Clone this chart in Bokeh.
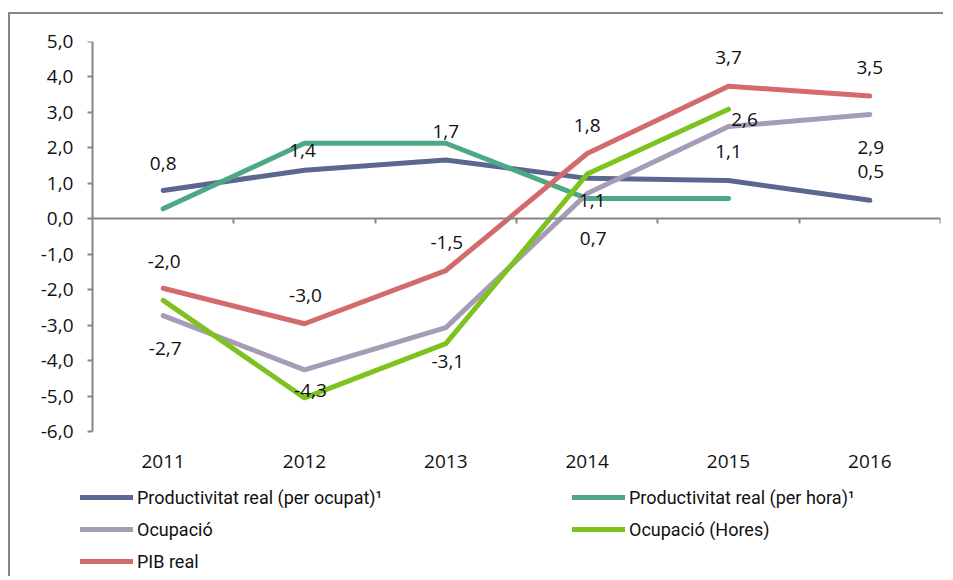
import math
from bokeh.plotting import figure
from bokeh.models import (ColumnDataSource, Range1d, LinearAxis, FixedTicker,
                          Legend, LegendItem)
from bokeh.core.properties import value
from bokeh.embed import file_html
from bokeh.resources import INLINE

NaN = float("nan")

# ---- data -------------------------------------------------------------
years = ["2011", "2012", "2013", "2014", "2015", "2016"]
prod_ocupat = [0.80, 1.37, 1.66, 1.14, 1.08, 0.52]
prod_hora = [0.28, 2.13, 2.13, 0.57, 0.57, NaN]
ocupacio = [-2.73, -4.26, -3.07, 0.71, 2.60, 2.94]
ocupacio_hores = [-2.30, -5.05, -3.52, 1.26, 3.09, NaN]
pib_real = [-1.96, -2.96, -1.46, 1.84, 3.74, 3.46]
y_ticks = [-6, -5, -4, -3, -2, -1, 0, 1, 2, 3, 4, 5]

series_names = ["Productivitat real (per ocupat)¹", "Productivitat real (per hora)¹",
                "Ocupació", "Ocupació (Hores)", "PIB real"]
series_colors = ["#5B6790", "#4DA886", "#A79CB8", "#7DC21F", "#D36A6B"]

# label placement (screen px offsets from the point)
ocupat_dx = [0, -2, 0, 5, 0, 1]
ocupat_dy = [-27, -20, -28, 22, -29, -29]
ocup_dx = [2, 6, 2, 6, 16, 1]
ocup_dy = [33, 21, 34, 45, -7, 33]
pib_dx = [1, 1, 1, 0, 0, 0]
pib_dy = [-27, -28, -28, -28, -29, -29]

FONT = "Open Sans"
FS = "19px"
GRAY = "#868686"

# ---- layout (screen px) ----------------------------------------------
W, H = 935, 564
TOP, AXIS_BOTTOM, FRAME_LEFT, AXIS_LEFT, RIGHT = 27, 417, 60, 82, 930
y_min, y_max = min(y_ticks), max(y_ticks)
px_per_unit = (AXIS_BOTTOM - TOP) / (y_max - y_min)
y_start = y_min - (H - AXIS_BOTTOM) / px_per_unit
x_lo, x_hi = -0.5, len(years) - 0.5
px_per_cat = (RIGHT - AXIS_LEFT) / (x_hi - x_lo)
x_start = x_lo - (AXIS_LEFT - FRAME_LEFT) / px_per_cat


def fmt(v):
    return f"{v:.1f}".replace(".", ",")


xs = list(range(len(years)))

p = figure(width=W, height=H, output_backend="svg", toolbar_location=None,
           x_range=Range1d(x_start, x_hi), y_range=Range1d(y_start, y_max),
           min_border_left=FRAME_LEFT, min_border_right=W - RIGHT, min_border_top=TOP,
           min_border_bottom=0, x_axis_location=None, y_axis_location=None)
p.styles = {"border-left": f"2px solid {GRAY}", "border-top": f"2px solid {GRAY}",
            "margin-top": "12px", "margin-left": "8px"}
p.outline_line_color = None
p.grid.visible = False
p.background_fill_color = "white"
p.border_fill_color = "white"

# y axis line + ticks (at the left edge of the category area)
yline = LinearAxis(ticker=FixedTicker(ticks=y_ticks), bounds=(y_min, y_max),
                   fixed_location=x_lo)
yline.axis_line_color = GRAY
yline.axis_line_width = 2
yline.major_tick_line_color = GRAY
yline.major_tick_line_width = 2
yline.major_tick_in = 0
yline.major_tick_out = 5
yline.minor_tick_line_color = None
yline.major_label_text_alpha = 0
yline.major_label_text_font_size = "1px"
yline.major_label_standoff = 0
p.add_layout(yline, "left")

# y tick labels
yax = LinearAxis(ticker=FixedTicker(ticks=y_ticks),
                 major_label_overrides={t: fmt(t) for t in y_ticks})
yax.axis_line_color = None
yax.major_tick_line_color = None
yax.major_tick_in = 0
yax.major_tick_out = 0
yax.minor_tick_line_color = None
yax.major_label_standoff = -3
yax.major_label_text_font = FONT
yax.major_label_text_font_size = FS
yax.major_label_text_color = "#111111"
p.add_layout(yax, "left")

# zero axis with boundary ticks
bounds = [i + 0.5 for i in xs]
zax = LinearAxis(ticker=FixedTicker(ticks=bounds), fixed_location=0, bounds=(x_lo, x_hi))
zax.axis_line_color = GRAY
zax.axis_line_width = 2
zax.major_tick_line_color = GRAY
zax.major_tick_line_width = 2
zax.major_tick_in = 5
zax.major_tick_out = 0
zax.minor_tick_line_color = None
zax.major_label_text_alpha = 0
zax.major_label_text_font_size = "1px"
zax.major_label_standoff = 0
p.add_layout(zax, "above")

# year labels under the bottom of the value axis
xax = LinearAxis(ticker=FixedTicker(ticks=xs), fixed_location=y_min,
                 major_label_overrides={i: y for i, y in enumerate(years)})
xax.axis_line_color = None
xax.major_tick_line_color = None
xax.major_tick_out = 0
xax.major_tick_in = 0
xax.minor_tick_line_color = None
xax.major_label_standoff = -36
xax.major_label_text_font = FONT
xax.major_label_text_font_size = FS
xax.major_label_text_color = "#111111"
p.add_layout(xax, "above")

# lines
all_series = [prod_ocupat, prod_hora, ocupacio, ocupacio_hores, pib_real]
renderers = []
for vals, col in zip(all_series, series_colors):
    src = ColumnDataSource(dict(x=xs, y=vals))
    r = p.line("x", "y", source=src, line_color=col, line_width=5,
               line_cap="round", line_join="round")
    renderers.append(r)

# data labels
for vals, dx, dy in [(prod_ocupat, ocupat_dx, ocupat_dy),
                     (ocupacio, ocup_dx, ocup_dy),
                     (pib_real, pib_dx, pib_dy)]:
    src = ColumnDataSource(dict(x=xs, y=vals, t=[fmt(v) for v in vals], dx=dx, dy=dy))
    p.text("x", "y", text="t", source=src, x_offset="dx", y_offset="dy",
           text_align="center", text_baseline="middle",
           text_font=value(FONT), text_font_size=FS, text_color="#111111")

legend = Legend(items=[LegendItem(label=n, renderers=[r])
                       for n, r in zip(series_names, renderers)],
                location=(10, 5), orientation="horizontal", ncols=2,
                glyph_width=53, glyph_height=24, label_height=24,
                label_standoff=4, label_width=427, spacing=8, padding=0, margin=0,
                border_line_color=None, background_fill_alpha=0,
                label_text_font="Roboto", label_text_font_size="18px",
                label_text_color="#111111")
p.add_layout(legend)

open("out.html", "w").write(file_html(p, INLINE))
